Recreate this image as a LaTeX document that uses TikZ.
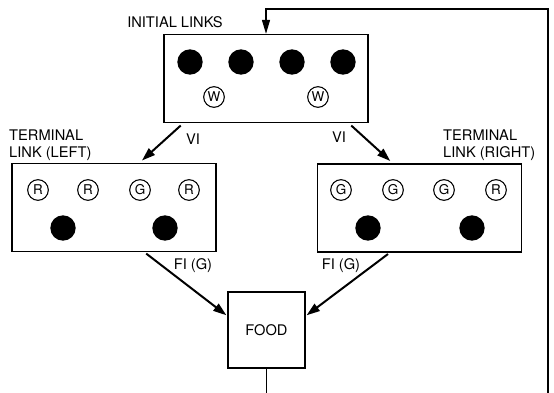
\documentclass[tikz,border=0pt]{standalone}
\usepackage{fontspec}
\setmainfont{TeX Gyre Heros}
\usetikzlibrary{arrows.meta}

\begin{document}
\begin{tikzpicture}[x=0.03cm, y=-0.03cm,
		panel/.style={shape=rectangle, draw, line width=1.1pt, minimum width=6.12cm, minimum height=2.64cm},
		dot/.style={shape=circle, fill, inner sep=0pt, minimum size=0.76cm},
		key/.style={shape=circle, draw, line width=0.9pt, inner sep=0pt, minimum size=0.62cm, font=\fontsize{11.5}{11.5}\selectfont},
		tag/.style={font=\fontsize{12.5}{15}\selectfont, inner sep=0pt},
		link/.style={-{Triangle[length=4mm, width=2.6mm]}, line width=1.7pt},
		feed/.style={line width=1.1pt}]
		\useasboundingbox (0,0) rectangle (554,393);

		% Initial links
		\node[panel] (init) at (266,78.5){};
		\node[tag] (initlbl) at (175,22){INITIAL LINKS};
		\foreach \n/\x in {1/190,2/241,3/292,4/343}
			\node[dot] (idot\n) at (\x,62){};
		\foreach \n/\x in {1/214,2/318}
			\node[key] (iw\n) at (\x,97){W};

		% Terminal links
		\node[panel] (termL) at (114,207.5){};
		\node[tag, align=left, anchor=south west] (leftlbl) at (9,161){TERMINAL\\LINK (LEFT)};
		\foreach \n/\x/\c in {1/38/R,2/88/R,3/140/G,4/189/R}
			\node[key] (lk\n) at (\x,190){\c};
		\foreach \n/\x in {1/63,2/165}
			\node[dot] (ldot\n) at (\x,228){};

		\node[panel] (termR) at (419.5,208){};
		\node[tag, align=left, anchor=south west] (rightlbl) at (443,161){TERMINAL\\LINK (RIGHT)};
		\foreach \n/\x/\c in {1/341/G,2/393/G,3/444/G,4/496/R}
			\node[key] (rk\n) at (\x,190){\c};
		\foreach \n/\x in {1/368,2/472}
			\node[dot] (rdot\n) at (\x,228){};

		% Food
		\node[shape=rectangle, draw, line width=1.1pt, minimum width=2.31cm, minimum height=2.28cm, font=\fontsize{12.5}{15}\selectfont] (food) at (266.5,330){FOOD};

		\node[tag] (vl) at (193,139){VI};
		\node[tag] (vr) at (339,137){VI};
		\node[tag] (fl) at (193,266){FI (G)};
		\node[tag] (fr) at (341,266){FI (G)};

		\draw[link, shorten <=3pt, shorten >=3pt] ([xshift=0.6cm]init.south west) -- ([xshift=3.84cm]termL.north west);
		\draw[link, shorten <=3pt, shorten >=3pt] ([xshift=-0.6cm]init.south east) -- ([xshift=2.28cm]termR.north west);
		\draw[link, shorten <=2pt, shorten >=1pt] ([xshift=3.99cm]termL.south west) -- ([yshift=0.42cm]food.west);
		\draw[link, shorten <=2pt, shorten >=1pt] ([xshift=2.19cm]termR.south west) -- ([yshift=0.42cm]food.east);

		% Feedback
		\coordinate (fbL) at (266.5,393);
		\coordinate (fbR) at (548,393);
		\draw[feed] (food.south) -- (fbL);
		\draw[feed, -{Triangle[length=4.2mm, width=2.4mm]}] (fbR) -- (548,9) -| (init.north);
	\end{tikzpicture}
\end{document}
